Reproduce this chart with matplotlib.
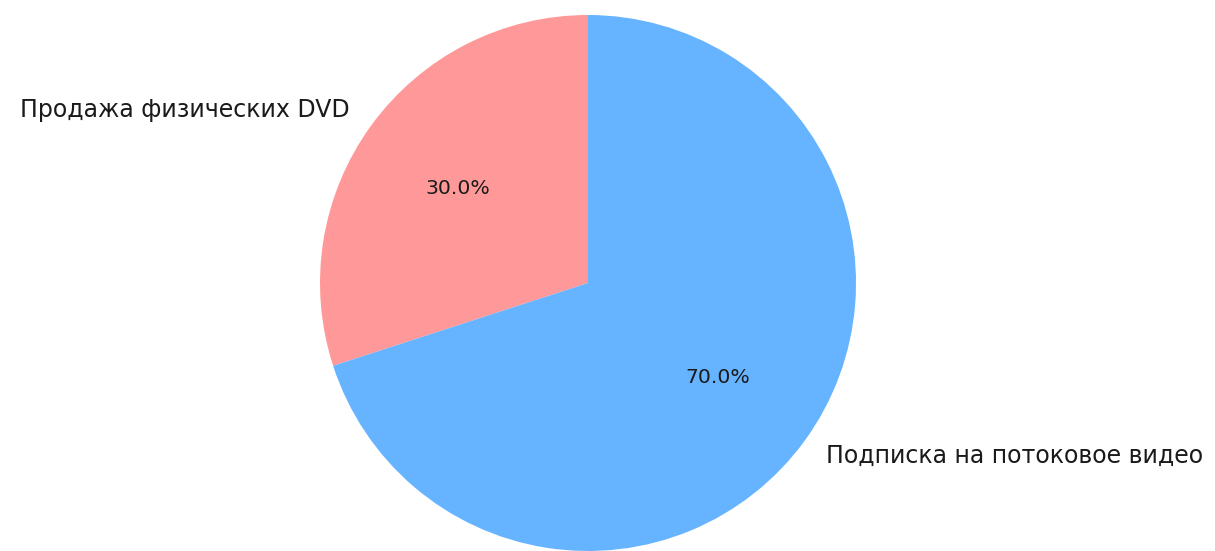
import matplotlib
matplotlib.use("Agg")
import matplotlib.pyplot as plt

labels = ["Продажа физических DVD", "Подписка на потоковое видео"]
values = [30, 70]
colors = ["#ff9999", "#66b3ff"]

W, H = 1215, 551
fig = plt.figure(figsize=(W / 100, H / 100), dpi=100)
cx, cy, r = 588, 551 - 283, 268
ax = fig.add_axes([(cx - r) / W, (cy - r) / H, 2 * r / W, 2 * r / H])
wedges, texts, autotexts = ax.pie(values, labels=labels, colors=colors, autopct="%1.1f%%",
                                  startangle=90)
for t in texts:
    t.set_fontsize(17)
    t.set_color("#1a1a1a")
for t in autotexts:
    t.set_fontsize(14.7)
    t.set_color("#1a1a1a")
ax.set_xlim(-1, 1)
ax.set_ylim(-1, 1)
ax.set_aspect("equal")
ax.axis("off")
fig.savefig("out.png", dpi=100)
